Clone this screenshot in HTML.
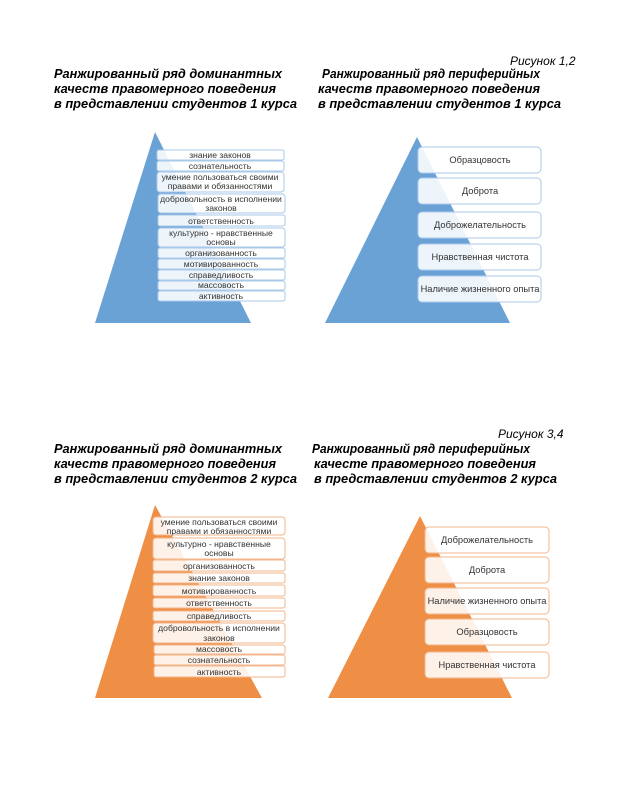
<!DOCTYPE html>
<html><head><meta charset="utf-8"><style>
html,body{margin:0;padding:0;background:#fff;width:621px;height:807px;overflow:hidden}
svg{display:block}
.t{font-family:"Liberation Sans",Arial,sans-serif;font-weight:bold;font-style:italic;font-size:13px;fill:#000}
.r{font-family:"Liberation Sans",Arial,sans-serif;font-style:italic;font-size:12px;fill:#000}
.s{font-family:"Liberation Sans",Arial,sans-serif;font-size:8.6px;fill:#333;text-anchor:middle}
.m{font-family:"Liberation Sans",Arial,sans-serif;font-size:9.3px;fill:#333;text-anchor:middle}
</style></head><body>
<svg width="621" height="807" viewBox="0 0 621 807" xmlns="http://www.w3.org/2000/svg">
<text class="r" x="510" y="65">Рисунок 1,2</text>
<text class="t" x="54" y="78" textLength="228" lengthAdjust="spacingAndGlyphs">Ранжированный ряд доминантных</text>
<text class="t" x="54" y="93" textLength="222" lengthAdjust="spacingAndGlyphs">качеств правомерного поведения</text>
<text class="t" x="54" y="108" textLength="243" lengthAdjust="spacingAndGlyphs">в представлении студентов 1 курса</text>
<text class="t" x="322" y="78" textLength="218" lengthAdjust="spacingAndGlyphs">Ранжированный ряд периферийных</text>
<text class="t" x="318" y="93" textLength="222" lengthAdjust="spacingAndGlyphs">качеств правомерного поведения</text>
<text class="t" x="318" y="108" textLength="243" lengthAdjust="spacingAndGlyphs">в представлении студентов 1 курса</text>

<text class="r" x="498" y="438">Рисунок 3,4</text>
<text class="t" x="54" y="453" textLength="228" lengthAdjust="spacingAndGlyphs">Ранжированный ряд доминантных</text>
<text class="t" x="54" y="468" textLength="222" lengthAdjust="spacingAndGlyphs">качеств правомерного поведения</text>
<text class="t" x="54" y="483" textLength="243" lengthAdjust="spacingAndGlyphs">в представлении студентов 2 курса</text>
<text class="t" x="312" y="453" textLength="218" lengthAdjust="spacingAndGlyphs">Ранжированный ряд периферийных</text>
<text class="t" x="314" y="468" textLength="222" lengthAdjust="spacingAndGlyphs">качесте правомерного поведения</text>
<text class="t" x="314" y="483" textLength="243" lengthAdjust="spacingAndGlyphs">в представлении студентов 2 курса</text>

<polygon points="155,132 95,323 251,323" fill="#6aa2d6"/>
<polygon points="417,137 325,323 510,323" fill="#6aa2d6"/>
<polygon points="155,505 95,698 262,698" fill="#ef8e45"/>
<polygon points="420,516 328,698 512,698" fill="#ef8e45"/>

<g fill="#fff" fill-opacity="0.88" stroke="#a9c8ea" stroke-width="1">
<rect x="157" y="150" width="127" height="10" rx="2"/>
<rect x="157" y="161" width="127" height="10" rx="2"/>
<rect x="157" y="172" width="127" height="20" rx="3"/>
<rect x="158" y="194" width="127" height="19" rx="3"/>
<rect x="158" y="215" width="127" height="11" rx="2"/>
<rect x="158" y="228" width="127" height="19" rx="3"/>
<rect x="158" y="248" width="127" height="10" rx="2"/>
<rect x="158" y="259" width="127" height="10" rx="2"/>
<rect x="158" y="270" width="127" height="10" rx="2"/>
<rect x="158" y="281" width="127" height="9" rx="2"/>
<rect x="158" y="291" width="127" height="10" rx="2"/>
<rect x="418" y="147" width="123" height="26" rx="4"/>
<rect x="418" y="178" width="123" height="26" rx="4"/>
<rect x="418" y="212" width="123" height="26" rx="4"/>
<rect x="418" y="244" width="123" height="26" rx="4"/>
<rect x="418" y="276" width="123" height="26" rx="4"/>
</g>
<g fill="#fff" fill-opacity="0.88" stroke="#f3b58a" stroke-width="1">
<rect x="153" y="517" width="132" height="18" rx="3"/>
<rect x="153" y="538" width="132" height="21" rx="3"/>
<rect x="153" y="560" width="132" height="11" rx="2"/>
<rect x="153" y="573" width="132" height="10" rx="2"/>
<rect x="153" y="585" width="132" height="11" rx="2"/>
<rect x="153" y="598" width="132" height="10" rx="2"/>
<rect x="153" y="611" width="132" height="10" rx="2"/>
<rect x="153" y="623" width="132" height="20" rx="3"/>
<rect x="154" y="645" width="131" height="9" rx="2"/>
<rect x="154" y="655" width="131" height="10" rx="2"/>
<rect x="154" y="666" width="131" height="11" rx="2"/>
<rect x="425" y="527" width="124" height="26" rx="4"/>
<rect x="425" y="557" width="124" height="26" rx="4"/>
<rect x="425" y="588" width="124" height="26" rx="4"/>
<rect x="425" y="619" width="124" height="26" rx="4"/>
<rect x="425" y="652" width="124" height="26" rx="4"/>
</g>

<g class="s">
<text x="220" y="158">знание законов</text>
<text x="220" y="169">сознательность</text>
<text x="220" y="180">умение пользоваться своими</text>
<text x="220" y="189">правами и обязанностями</text>
<text x="221" y="202">добровольность в исполнении</text>
<text x="221" y="211">законов</text>
<text x="221" y="224">ответственность</text>
<text x="221" y="236">культурно - нравственные</text>
<text x="221" y="245">основы</text>
<text x="221" y="256">организованность</text>
<text x="221" y="267">мотивированность</text>
<text x="221" y="278">справедливость</text>
<text x="221" y="288">массовость</text>
<text x="221" y="299">активность</text>

<text x="219" y="525">умение пользоваться своими</text>
<text x="219" y="534">правами и обязанностями</text>
<text x="219" y="547">культурно - нравственные</text>
<text x="219" y="556">основы</text>
<text x="219" y="569">организованность</text>
<text x="219" y="581">знание законов</text>
<text x="219" y="594">мотивированность</text>
<text x="219" y="606">ответственность</text>
<text x="219" y="619">справедливость</text>
<text x="219" y="631">добровольность в исполнении</text>
<text x="219" y="641">законов</text>
<text x="219" y="652">массовость</text>
<text x="219" y="663">сознательность</text>
<text x="219" y="675">активность</text>
</g>
<g class="m">
<text x="480" y="163">Образцовость</text>
<text x="480" y="194">Доброта</text>
<text x="480" y="228">Доброжелательность</text>
<text x="480" y="260">Нравственная чистота</text>
<text x="480" y="292">Наличие жизненного опыта</text>
<text x="487" y="543">Доброжелательность</text>
<text x="487" y="573">Доброта</text>
<text x="487" y="604">Наличие жизненного опыта</text>
<text x="487" y="635">Образцовость</text>
<text x="487" y="668">Нравственная чистота</text>
</g>
</svg>
</body></html>
